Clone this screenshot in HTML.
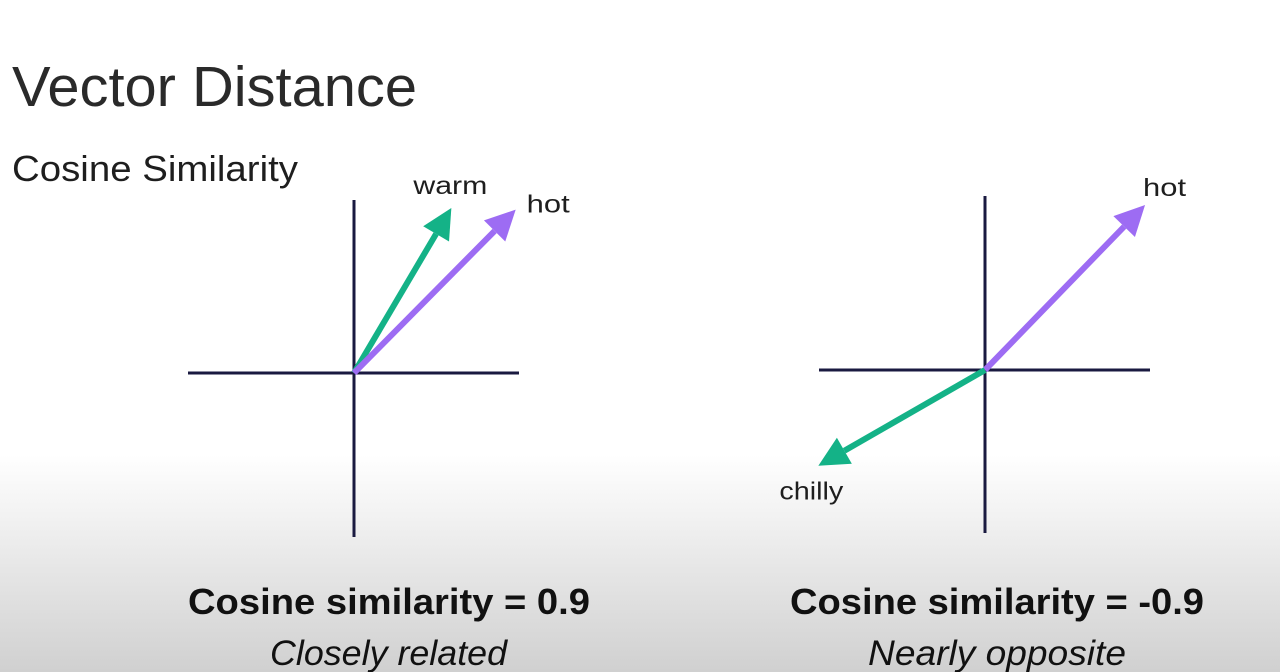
<!DOCTYPE html>
<html><head><meta charset="utf-8"><style>
body{margin:0;width:1280px;height:672px;overflow:hidden;font-family:"Liberation Sans",sans-serif;}
#bg{position:absolute;left:0;top:0;width:1280px;height:672px;background:linear-gradient(#fff 0,#fff 455px,#d0d0d0 672px);}
svg{position:absolute;left:0;top:0}
</style></head><body>
<div id="bg"></div>
<svg width="1280" height="672" id="s">
<text x="12" y="106" font-size="57" fill="#2a2a2a" textLength="405" lengthAdjust="spacingAndGlyphs">Vector Distance</text>
<text x="12" y="181" font-size="36" fill="#1e1e1e" textLength="286" lengthAdjust="spacingAndGlyphs">Cosine Similarity</text>
<text x="188" y="614" font-size="36" font-weight="bold" fill="#111" textLength="402" lengthAdjust="spacingAndGlyphs">Cosine similarity = 0.9</text>
<text x="270" y="665" font-size="35" font-style="italic" fill="#111" textLength="237" lengthAdjust="spacingAndGlyphs">Closely related</text>
<text x="790" y="614" font-size="36" font-weight="bold" fill="#111" textLength="414" lengthAdjust="spacingAndGlyphs">Cosine similarity = -0.9</text>
<text x="868" y="665" font-size="35" font-style="italic" fill="#111" textLength="258" lengthAdjust="spacingAndGlyphs">Nearly opposite</text>
</svg>
<script>
const panels=["left","right"];
const leftNames=["warm","hot"];
const leftX=[0.59,0.98];
const leftY=[1.0,0.99];
const rightNames=["hot","chilly"];
const rightX=[0.97,-1.01];
const rightY=[1.0,-0.58];
const colors={warm:"#14b287",hot:"#9d6cf3",chilly:"#14b287"};
const svg=document.getElementById('s');
const NS="http://www.w3.org/2000/svg";
function mk(t,a){const e=document.createElementNS(NS,t);for(const k in a)e.setAttribute(k,a[k]);svg.appendChild(e);return e;}
const geo={left:{ox:354,oy:373,names:leftNames,xs:leftX,ys:leftY,ax:[188,519,200,537]},
right:{ox:985,oy:370,names:rightNames,xs:rightX,ys:rightY,ax:[819,1150,196,533]}};
const S=165;
const widths={warm:74,hot:43,chilly:64};
panels.forEach(p=>{const g=geo[p];
 const h=mk('line',{x1:g.ax[0],x2:g.ax[1],y1:g.oy,y2:g.oy,stroke:"#1a1a40","stroke-width":3});
 
 
 const v=mk('line',{x1:g.ox,x2:g.ox,y1:g.ax[2],y2:g.ax[3],stroke:"#1a1a40","stroke-width":3});
 
 
 g.names.forEach((n,i)=>{
  const tx=g.ox+g.xs[i]*S, ty=g.oy-g.ys[i]*S;
  const dx=tx-g.ox, dy=ty-g.oy, L=Math.hypot(dx,dy), ux=dx/L, uy=dy/L;
  const hl=30, hw=15, bx=tx-ux*hl, by=ty-uy*hl;
  const ln=mk('line',{x1:g.ox,y1:g.oy,x2:bx,y2:by,stroke:colors[n],"stroke-width":6});
  
  
  const hd=mk('polygon',{points:`${tx},${ty} ${bx-uy*hw},${by+ux*hw} ${bx+uy*hw},${by-ux*hw}`,fill:colors[n]});
  
  
  let lx,ly;
  if(ux>0&&Math.abs(ux)<0.6){lx=tx-38;ly=ty-14;}
  else if(uy<0){lx=tx+(p==="left"?11:-2);ly=ty+(p==="left"?3:-9);}
  else {lx=tx-39;ly=ty+34;}
  const t=mk('text',{x:lx,y:ly,"font-size":25,fill:"#1e1e1e",textLength:widths[n],lengthAdjust:"spacingAndGlyphs"});
  t.textContent=n;
  
  
 });
});
</script>
</body></html>
